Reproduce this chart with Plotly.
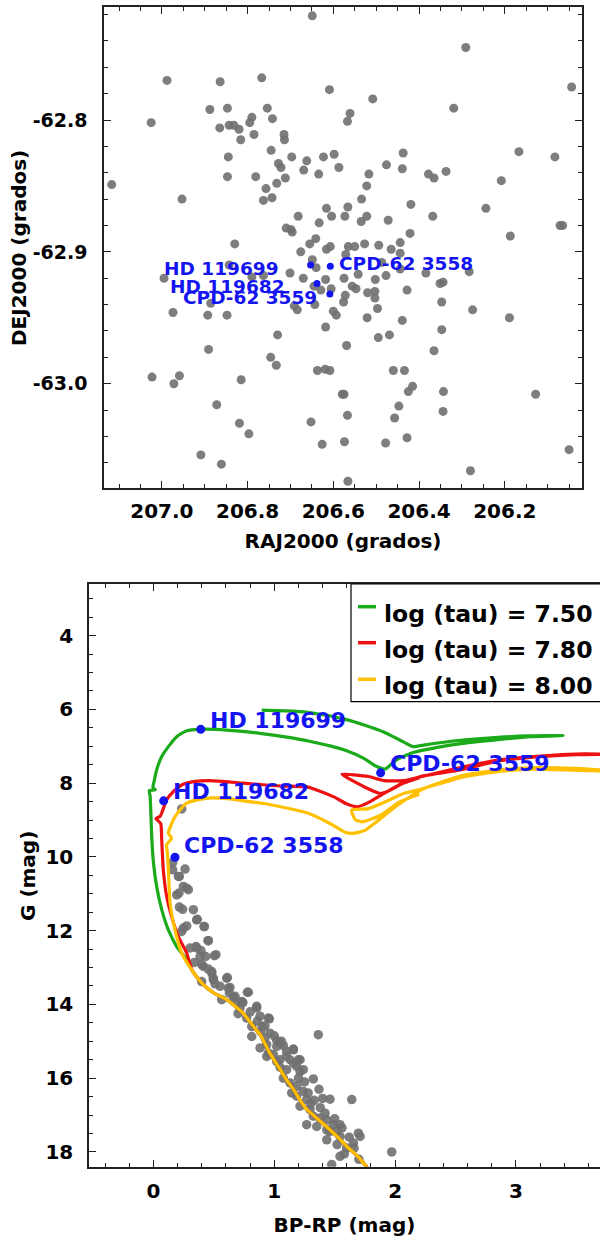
import plotly.graph_objects as go

# ---------------- Top panel data: sky positions ----------------
ra = [206.649, 206.291, 206.988, 206.864, 206.767, 206.609, 206.044, 206.508, 206.888, 206.847,
      206.754, 206.319, 206.561, 206.567, 207.025, 206.865, 206.843, 206.832, 206.820, 206.795,
      206.790, 206.742, 206.785, 206.715, 206.714, 206.816, 206.745, 206.845, 206.697, 206.623,
      206.598, 206.662, 206.728, 206.722, 206.669, 206.587, 206.437, 206.167, 206.083, 206.476,
      206.439, 206.337, 206.378, 206.365, 206.517, 206.634, 206.847, 206.781, 206.712, 206.208,
      207.117, 206.732, 206.757, 206.522, 206.953, 206.763, 206.743, 206.534, 206.419, 206.244,
      206.616, 206.566, 206.682, 206.604, 206.573, 206.522, 206.535, 206.368, 206.472, 206.633,
      206.710, 206.699, 206.696, 206.071, 206.065, 206.421, 206.187, 206.641, 206.830, 206.655,
      206.616, 206.607, 206.565, 206.550, 206.527, 206.494, 206.444, 206.465, 206.676, 206.571,
      206.649, 206.640, 206.487, 206.444, 206.384, 206.283, 206.843, 206.995, 206.790, 206.763,
      206.701, 206.670, 206.618, 206.575, 206.542, 206.502, 206.477, 206.344, 206.351, 206.645,
      206.629, 206.605, 206.556, 206.547, 206.520, 206.503, 206.428, 206.572, 206.503, 206.347,
      206.886, 206.691, 206.643, 206.576, 206.684, 206.600, 206.593, 206.497, 206.974, 206.893,
      206.848, 206.275, 206.521, 206.439, 206.189, 206.618, 206.347, 206.730, 206.495, 206.469,
      206.569, 206.891, 206.365, 206.746, 206.733, 206.637, 206.619, 206.608, 206.460, 206.434,
      207.023, 206.959, 206.972, 206.815, 206.415, 206.425, 206.343, 206.579, 206.575, 206.128,
      206.872, 206.447, 206.344, 206.567, 206.457, 206.819, 206.652, 206.797, 206.428, 206.574,
      206.478, 206.626, 206.050, 206.909, 206.861, 206.280, 206.566, 206.444]
dec = [-62.721, -62.745, -62.770, -62.771, -62.768, -62.777, -62.775, -62.784, -62.792, -62.791,
       -62.791, -62.791, -62.795, -62.801, -62.802, -62.806, -62.804, -62.804, -62.807, -62.802,
       -62.798, -62.799, -62.811, -62.811, -62.815, -62.815, -62.823, -62.828, -62.828, -62.828,
       -62.826, -62.831, -62.833, -62.836, -62.838, -62.836, -62.825, -62.824, -62.828, -62.834,
       -62.837, -62.839, -62.841, -62.844, -62.841, -62.841, -62.843, -62.843, -62.844, -62.846,
       -62.849, -62.848, -62.852, -62.850, -62.860, -62.861, -62.859, -62.860, -62.864, -62.867,
       -62.867, -62.866, -62.873, -62.873, -62.873, -62.873, -62.877, -62.873, -62.876, -62.878,
       -62.882, -62.883, -62.885, -62.880, -62.880, -62.886, -62.888, -62.890, -62.894, -62.894,
       -62.898, -62.896, -62.896, -62.896, -62.894, -62.895, -62.893, -62.898, -62.900, -62.902,
       -62.906, -62.912, -62.908, -62.913, -62.916, -62.915, -62.910, -62.920, -62.919, -62.918,
       -62.916, -62.920, -62.921, -62.920, -62.917, -62.921, -62.918, -62.923, -62.924, -62.926,
       -62.929, -62.928, -62.926, -62.928, -62.931, -62.930, -62.929, -62.933, -62.935, -62.938,
       -62.939, -62.941, -62.940, -62.938, -62.944, -62.945, -62.948, -62.943, -62.946, -62.948,
       -62.948, -62.944, -62.950, -62.952, -62.950, -62.957, -62.959, -62.963, -62.965, -62.963,
       -62.971, -62.974, -62.975, -62.980, -62.986, -62.990, -62.989, -62.990, -62.990, -62.990,
       -62.995, -62.994, -63.000, -62.997, -63.002, -63.006, -63.006, -63.008, -63.008, -63.008,
       -63.016, -63.017, -63.021, -63.024, -63.026, -63.030, -63.029, -63.038, -63.041, -63.044,
       -63.045, -63.046, -63.050, -63.054, -63.061, -63.066, -63.074, -62.901]

star_names = ["HD 119699", "CPD-62 3558", "HD 119682", "CPD-62 3559"]
star_ra = [206.653, 206.607, 206.638, 206.608]
star_dec = [-62.910, -62.911, -62.924, -62.932]

ra_tickvals = [207.0, 206.8, 206.6, 206.4, 206.2]
ra_ticktext = ["207.0", "206.8", "206.6", "206.4", "206.2"]
dec_tickvals = [-63.0, -62.9, -62.8]
dec_ticktext = ["-63.0", "-62.9", "-62.8"]

# ---------------- Bottom panel data: CMD ----------------
star_bprp = [0.391, 0.178, 0.084, 1.880]
star_gmag = [6.54, 10.01, 8.48, 7.72]

cmd_bprp = [0.233, 0.159, 0.261, 0.214, 0.247, 0.275, 0.211, 0.214, 0.241, 0.330,
            0.363, 0.421, 0.247, 0.233, 0.454, 0.302, 0.352, 0.393, 0.517, 0.338,
            0.399, 0.454, 0.482, 0.495, 0.611, 0.399, 0.509, 0.551, 0.633, 0.628,
            0.777, 0.564, 0.689, 0.716, 0.854, 0.771, 0.951, 0.813, 0.887, 0.964, 1.364,
            0.813, 0.923, 1.020, 0.937, 1.075, 0.882, 1.020, 1.102, 1.158, 0.992,
            0.951, 0.937, 1.047, 1.130, 1.213, 1.020, 1.185, 1.102, 1.213, 1.047,
            1.240, 1.323, 1.075, 1.130, 1.185, 1.240, 1.144, 1.185, 1.268, 1.461,
            1.641, 1.213, 1.296, 1.323, 1.378, 1.434, 1.489, 1.544, 1.268, 1.434,
            1.516, 1.544, 1.696, 1.710, 1.655, 1.599, 1.434, 1.544, 1.475, 1.972, 1.351,
            0.66, 0.74, 0.80, 0.86, 0.70, 0.90, 1.00, 1.06, 1.10, 1.16,
            1.20, 1.25, 1.28, 1.33, 1.38, 1.42, 1.50, 1.56, 1.62, 1.66,
            1.70, 1.58, 1.37, 1.40,
            0.159, 0.206, 0.288, 0.192, 0.357, 0.275, 0.418, 0.357, 0.451, 0.385,
            0.432, 0.504, 0.413, 0.482, 0.496, 0.606, 0.619, 0.675, 0.785, 0.730,
            0.854, 0.882, 0.959, 0.923, 1.047, 1.158, 1.199, 1.30, 1.46, 1.52]
cmd_gmag = [8.70, 10.35, 10.33, 10.53, 10.80, 10.85, 10.98, 11.36, 11.42, 11.43,
            11.69, 11.89, 11.93, 12.02, 12.27, 12.47, 12.43, 12.54, 12.65, 12.86,
            12.92, 13.04, 13.15, 13.29, 13.27, 13.38, 13.44, 13.51, 13.54, 13.69,
            13.67, 13.87, 13.96, 14.10, 14.10, 14.37, 14.37, 14.60, 14.73, 14.78, 14.82,
            14.87, 14.91, 14.98, 15.09, 15.12, 15.18, 15.14, 15.27, 15.23, 15.36,
            15.32, 15.41, 15.50, 15.50, 15.50, 15.55, 15.68, 15.77, 15.82, 15.70,
            15.77, 16.02, 16.00, 16.13, 16.22, 16.36, 16.40, 16.49, 16.58, 16.57,
            16.58, 16.76, 16.85, 17.03, 17.08, 17.13, 17.26, 17.26, 17.26, 17.40,
            17.44, 17.58, 17.49, 17.58, 17.76, 17.89, 17.67, 18.12, 18.34, 18.00, 17.31,
            13.80, 13.95, 14.20, 14.45, 14.25, 14.60, 14.85, 15.00, 15.40, 15.60,
            16.00, 16.10, 16.40, 16.60, 16.80, 16.95, 17.10, 17.35, 17.60, 17.90,
            18.20, 18.05, 16.30, 16.55,
            10.15, 10.53, 10.89, 11.03, 11.71, 11.87, 11.89, 12.47, 12.27, 12.70,
            12.70, 12.68, 12.97, 13.11, 13.33, 13.29, 13.56, 13.78, 13.67, 13.92,
            14.05, 14.32, 14.39, 14.58, 15.05, 15.21, 15.50, 16.70, 17.45, 17.80]

# shared lower main sequence of the isochrones (faint -> bright)
ms_bprp = [1.77, 1.69, 1.60, 1.52, 1.43, 1.35, 1.27, 1.21, 1.16, 1.10, 1.05,
           1.01, 0.96, 0.92, 0.89, 0.85, 0.74, 0.61, 0.50, 0.40, 0.32]
ms_gmag = [18.42, 18.12, 17.85, 17.58, 17.31, 17.08, 16.85, 16.58, 16.31, 16.04, 15.77,
           15.57, 15.30, 15.05, 14.85, 14.69, 14.23, 13.88, 13.69, 13.42, 13.08]

# upper parts of each isochrone
iso75_bprp = [0.275, 0.192, 0.123, 0.068, 0.026, 0.000, -0.015, -0.022, -0.028, -0.035,
              0.015, -0.005, 0.005, 0.026, 0.068, 0.123, 0.192, 0.275, 0.385, 0.606,
              0.882, 1.158, 1.300, 1.461, 1.599, 1.737, 1.848, 1.917, 2.01, 2.15,
              2.35, 2.56, 2.85, 3.12, 3.39, 3.10, 2.80, 2.50, 2.25, 2.15,
              2.05, 1.91, 1.75, 1.59, 1.43, 1.275, 1.10, 0.896]
iso75_gmag = [12.79, 12.43, 11.98, 11.43, 10.80, 10.17, 9.45, 8.80, 8.35, 8.20,
              8.18, 8.12, 7.95, 7.64, 7.28, 7.01, 6.74, 6.58, 6.54, 6.56,
              6.65, 6.78, 6.87, 6.99, 7.12, 7.32, 7.55, 7.62, 7.37, 7.17,
              7.03, 6.92, 6.82, 6.74, 6.71, 6.72, 6.77, 6.85, 6.96, 7.01,
              6.85, 6.62, 6.43, 6.27, 6.16, 6.08, 6.04, 6.02]

iso78_bprp = [0.275, 0.206, 0.150, 0.109, 0.081, 0.068, 0.060, 0.021, 0.055, 0.068,
              0.109, 0.164, 0.233, 0.330, 0.468, 0.744, 1.020, 1.268, 1.339, 1.497,
              1.592, 1.687, 1.782, 1.908, 2.066, 2.225, 2.540, 2.860, 3.170, 3.490,
              3.800, 4.000, 3.500, 3.170, 2.860, 2.540, 2.300, 2.070, 1.910, 1.780,
              1.560, 1.750, 1.880, 1.940, 2.070, 2.200]
iso78_gmag = [12.61, 12.16, 11.62, 11.07, 10.35, 9.54, 9.10, 8.96, 8.90, 8.81,
              8.45, 8.23, 8.05, 7.96, 7.93, 8.00, 8.07, 8.10, 8.17, 8.38,
              8.55, 8.64, 8.52, 8.28, 7.99, 7.81, 7.64, 7.40, 7.29, 7.23,
              7.22, 7.22, 7.21, 7.27, 7.37, 7.58, 7.76, 7.93, 7.93, 7.82,
              7.76, 8.11, 8.28, 8.22, 8.00, 7.85]

iso80_bprp = [0.233, 0.178, 0.137, 0.123, 0.115, 0.109, 0.150, 0.123, 0.164, 0.220,
              0.275, 0.385, 0.484, 0.606, 0.959, 1.275, 1.465, 1.592, 1.655, 1.750,
              1.845, 2.003, 2.225, 2.540, 2.860, 3.170, 3.490, 3.710, 4.000, 3.600,
              3.170, 2.860, 2.540, 2.210, 2.070, 1.910, 1.780, 1.640, 1.670, 1.730,
              1.880, 2.030, 2.200]
iso80_gmag = [12.61, 11.98, 11.25, 10.35, 9.90, 9.67, 9.49, 9.36, 8.99, 8.72,
              8.54, 8.44, 8.40, 8.42, 8.58, 8.81, 9.10, 9.34, 9.36, 9.28,
              9.05, 8.64, 8.17, 7.81, 7.64, 7.58, 7.60, 7.64, 7.68, 7.66,
              7.62, 7.68, 7.85, 8.17, 8.28, 8.52, 8.69, 8.73, 8.99, 9.05,
              8.87, 8.52, 8.30]

iso_names = ["log (tau) = 7.50", "log (tau) = 7.80", "log (tau) = 8.00"]
iso_colors = ["#1aaa1a", "#ee1111", "#ffc000"]
iso_upper_bprp = [iso75_bprp, iso78_bprp, iso80_bprp]
iso_upper_gmag = [iso75_gmag, iso78_gmag, iso80_gmag]

# ---------------- Figure ----------------
W, H = 600, 1243
def px(x):
    return x / W
def py(y):
    return 1 - y / H

FONT = "DejaVu Sans"
BLUE = "#1414f0"
GRAY = "rgba(112,112,112,0.9)"
AXC = "#222222"

fig = go.Figure()

fig.add_trace(go.Scatter(x=ra, y=dec, mode="markers", xaxis="x", yaxis="y",
                         marker=dict(size=9, color=GRAY, line=dict(width=0)),
                         hoverinfo="skip", showlegend=False))
fig.add_trace(go.Scatter(x=star_ra, y=star_dec, mode="markers", xaxis="x", yaxis="y",
                         marker=dict(size=7, color=BLUE, line=dict(width=0)),
                         hoverinfo="skip", showlegend=False))

fig.add_trace(go.Scatter(x=cmd_bprp, y=cmd_gmag, mode="markers", xaxis="x2", yaxis="y2",
                         marker=dict(size=9.5, color=GRAY, line=dict(width=0)),
                         hoverinfo="skip", showlegend=False))
for name, col, ub, ug in zip(iso_names, iso_colors, iso_upper_bprp, iso_upper_gmag):
    fig.add_trace(go.Scatter(x=ms_bprp + ub, y=ms_gmag + ug, mode="lines",
                             xaxis="x2", yaxis="y2", name=name,
                             line=dict(color=col, width=3.2, shape="spline", smoothing=0.5),
                             hoverinfo="skip", showlegend=False))
fig.add_trace(go.Scatter(x=star_bprp, y=star_gmag, mode="markers", xaxis="x2", yaxis="y2",
                         marker=dict(size=9, color=BLUE, line=dict(width=0)),
                         hoverinfo="skip", showlegend=False))

tickfont = dict(family=FONT, size=20, color="black", weight="bold")
ytickfont_top = dict(family=FONT, size=19, color="black", weight="bold")
titlefont = dict(family=FONT, size=20, color="black", weight="bold")

common = dict(showgrid=False, zeroline=False, showline=True, linecolor=AXC, linewidth=1.5,
              ticks="inside", ticklen=7, tickwidth=1.3, tickcolor=AXC, automargin=False)

fig.update_layout(
    width=W, height=H, margin=dict(l=0, r=0, t=0, b=0),
    paper_bgcolor="white", plot_bgcolor="white", template="none",
    showlegend=False,
    xaxis=dict(domain=[px(104), px(582)], anchor="y", range=[207.135, 206.0198],
               tickmode="array", tickvals=ra_tickvals, ticktext=ra_ticktext, mirror="ticks",
               minor=dict(tickmode="linear", dtick=0.05, tick0=207.0, ticks="inside", ticklen=4,
                          tickwidth=1, tickcolor=AXC, showgrid=False),
               ticklabelstandoff=4, tickfont=tickfont,
               title=dict(text="RAJ2000 (grados)", font=titlefont, standoff=12), **common),
    yaxis=dict(domain=[py(488), py(7)], anchor="x", range=[-63.0791, -62.7143],
               tickmode="array", tickvals=dec_tickvals, ticktext=dec_ticktext, mirror="ticks",
               minor=dict(tickmode="linear", dtick=0.02, tick0=-63.0, ticks="inside", ticklen=4,
                          tickwidth=1, tickcolor=AXC, showgrid=False),
               ticklabelstandoff=11, tickfont=ytickfont_top, **common),
    xaxis2=dict(domain=[px(89), 1.0], anchor="y2", range=[-0.534, 3.696],
                tickmode="linear", tick0=0, dtick=1, mirror="ticks",
                minor=dict(tickmode="linear", dtick=0.2, tick0=0, ticks="inside", ticklen=4,
                           tickwidth=1, tickcolor=AXC, showgrid=False),
                ticklabelstandoff=6, tickfont=tickfont,
                title=dict(text="BP-RP (mag)", font=titlefont, standoff=16), **common),
    yaxis2=dict(domain=[py(1166.7), py(584)], anchor="x2", range=[18.40, 2.60],
                tickmode="linear", tick0=0, dtick=2, mirror=False,
                minor=dict(tickmode="linear", dtick=0.5, tick0=0, ticks="inside", ticklen=4,
                           tickwidth=1, tickcolor=AXC, showgrid=False),
                ticklabelstandoff=10, tickfont=tickfont, **common),
)

# y-axis titles placed as rotated annotations
fig.add_annotation(x=px(19), y=py(248), xref="paper", yref="paper", text="DEJ2000 (grados)",
                   textangle=-90, showarrow=False, xanchor="center", yanchor="middle",
                   font=titlefont)
fig.add_annotation(x=px(28), y=py(876), xref="paper", yref="paper", text="G (mag)",
                   textangle=-90, showarrow=False, xanchor="center", yanchor="middle",
                   font=titlefont)

# star labels
top_offsets = [(-30, -3, "right"), (7, 3, "left"), (-30, -3, "right"), (-11, -3, "right")]
for name, x, y, (dx, dy, anc) in zip(star_names, star_ra, star_dec, top_offsets):
    fig.add_annotation(x=x, y=y, xref="x", yref="y", text=name, showarrow=False,
                       xanchor=anc, yanchor="middle", xshift=dx, yshift=dy,
                       font=dict(family=FONT, size=18.5, color=BLUE, weight="bold"))
bot_offsets = [(7, 9), (7, 11.5), (7, 9.5), (7, 9)]
for name, x, y, (dx, dy) in zip(star_names, star_bprp, star_gmag, bot_offsets):
    fig.add_annotation(x=x, y=y, xref="x2", yref="y2", text=name, showarrow=False,
                       xanchor="left", yanchor="middle", xshift=dx, yshift=dy,
                       font=dict(family=FONT, size=22, color=BLUE, weight="bold"))

# legend box (drawn manually for a compact line sample)
fig.add_shape(type="rect", xref="paper", yref="paper", x0=px(351), x1=px(640),
              y0=py(701.7), y1=py(584), line=dict(color="black", width=1.2),
              fillcolor="white", layer="above")
row_y = [606.7, 642.7, 679.3]
for name, col, ry in zip(iso_names, iso_colors, row_y):
    fig.add_shape(type="line", xref="paper", yref="paper", x0=px(358), x1=px(376),
                  y0=py(ry), y1=py(ry), line=dict(color=col, width=3.5), layer="above")
    fig.add_annotation(x=px(382), y=py(ry + 7), xref="paper", yref="paper", text=name,
                       showarrow=False, xanchor="left", yanchor="middle",
                       font=dict(family=FONT, size=23.5, color="black", weight="bold"))

fig.write_html("out.html")
